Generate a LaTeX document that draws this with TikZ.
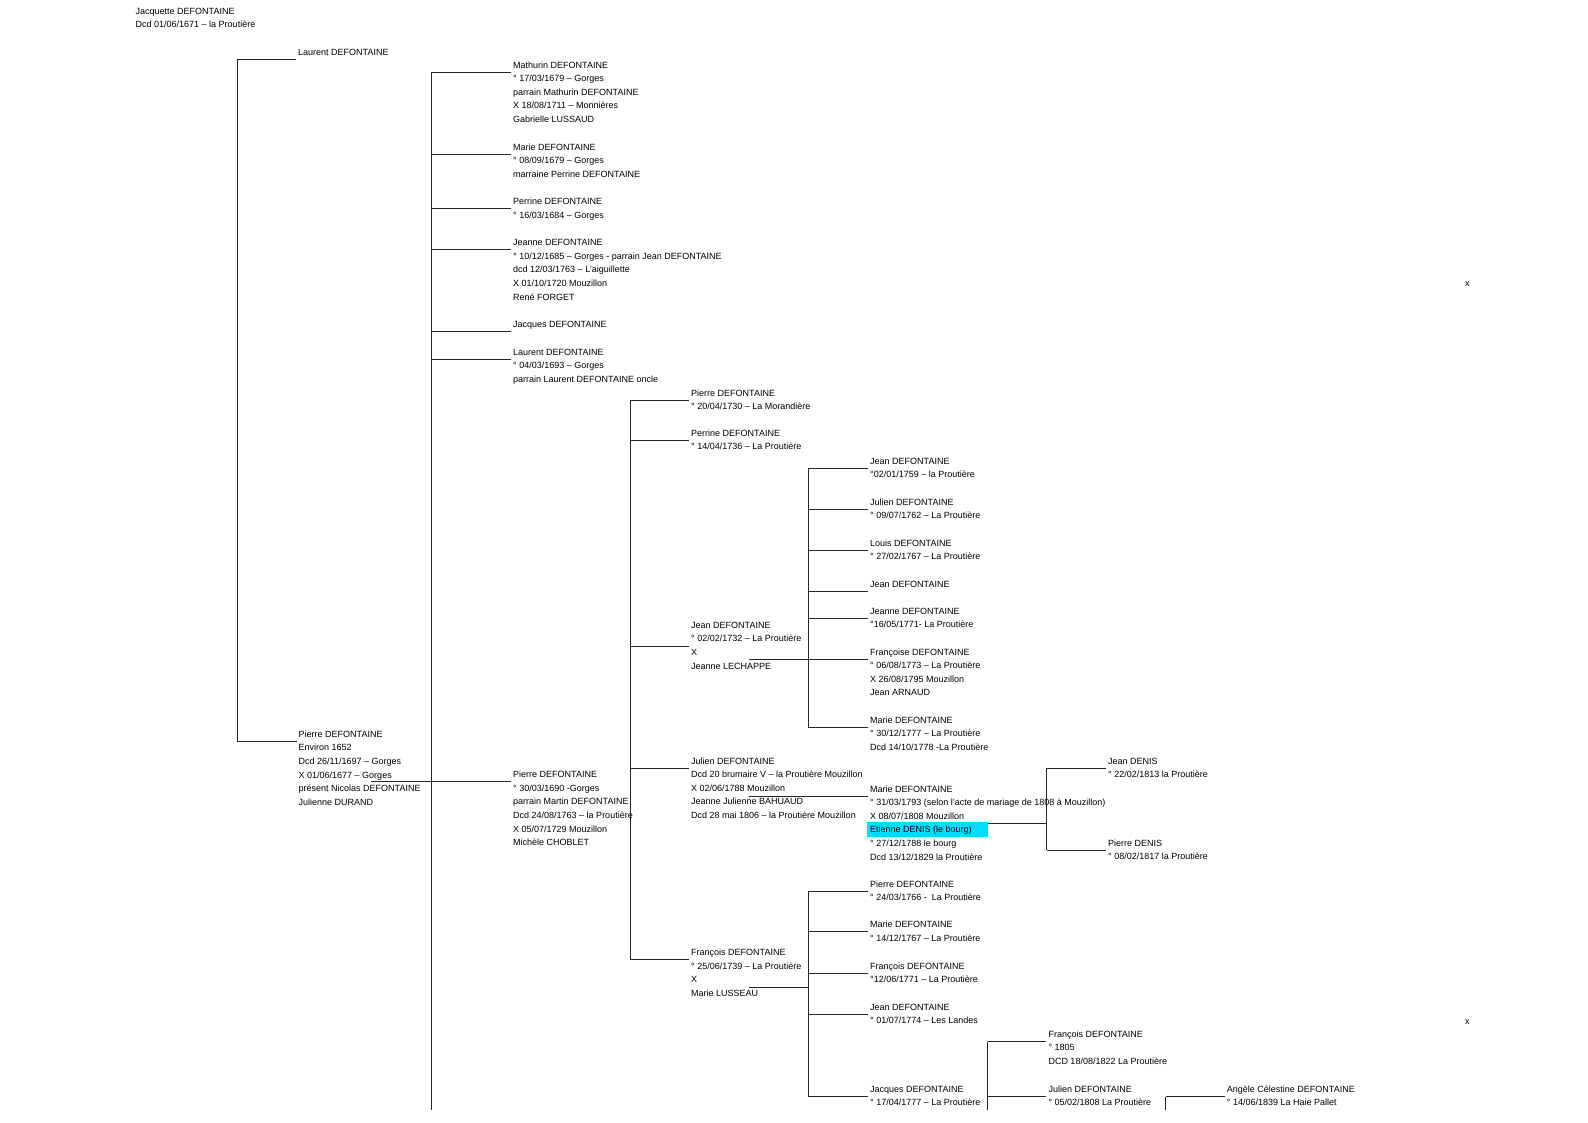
\documentclass[tikz,border=0pt]{standalone}
\usepackage{fontspec}
\setmainfont{Liberation Sans}
\usetikzlibrary{backgrounds}
\definecolor{hl}{RGB}{0,220,255}
\tikzset{
  pers/.style={anchor=north west, inner sep=0pt, align=left, font=\fontsize{9}{13.65}\selectfont},
  tree/.style={draw=black!85, line width=1pt},
  xmk/.style={inner sep=0pt, font=\fontsize{9}{13.65}\selectfont},
}
\newcommand\mkc[2]{\path ([shift={(-2,{14+#2*13.65})}]#1.north west) coordinate (#1-c);}
\newcommand\mks[3]{\path ([shift={(#2,{14+#3*13.65})}]#1.north west) coordinate (#1-s);}
\begin{document}
\begin{tikzpicture}[x=1pt,y=-1pt]
\useasboundingbox (0,0) rectangle (1588,1123);
% bus coordinates
\coordinate (bus1) at (237.6,0);
\coordinate (bus2) at (431.4,0);
\coordinate (bus3) at (630.3,0);
\coordinate (bus4) at (808.3,0);
\coordinate (bus5) at (808.3,0);
\coordinate (busD) at (1046.8,0);
\coordinate (bus6) at (987.5,0);
\coordinate (bus7) at (1165.7,0);
\coordinate (bot) at (0,1110);

% people
\node[pers] (jacq) at (135.5,4.25) {\strut Jacquette DEFONTAINE\\Dcd 01/06/1671 – la Proutière};
\node[pers] (laurentA) at (298,45.25) {\strut Laurent DEFONTAINE};
\node[pers] (pierreA) at (298.5,727.55) {\strut Pierre DEFONTAINE\\Environ 1652\\Dcd 26/11/1697 – Gorges\\X 01/06/1677 – Gorges\\présent Nicolas DEFONTAINE\\Julienne DURAND};

\node[pers] (mathurin) at (513,58.25) {\strut Mathurin DEFONTAINE\\° 17/03/1679 – Gorges\\parrain Mathurin DEFONTAINE\\X 18/08/1711 – Monnières\\Gabrielle LUSSAUD};
\node[pers] (marieA) at (513,140.25) {\strut Marie DEFONTAINE\\° 08/09/1679 – Gorges\\marraine Perrine DEFONTAINE};
\node[pers] (perrineA) at (513,194.85) {\strut Perrine DEFONTAINE\\° 16/03/1684 – Gorges};
\node[pers] (jeanneA) at (513,235.85) {\strut Jeanne DEFONTAINE\\° 10/12/1685 – Gorges - parrain Jean DEFONTAINE\\dcd 12/03/1763 – L'aiguillette\\X 01/10/1720 Mouzillon\\René FORGET};
\node[pers] (jacquesA) at (513,317.85) {\strut Jacques DEFONTAINE};
\node[pers] (laurentB) at (513,345.25) {\strut Laurent DEFONTAINE\\° 04/03/1693 – Gorges\\parrain Laurent DEFONTAINE oncle};
\node[pers] (pierreB) at (513,767.85) {\strut Pierre DEFONTAINE\\° 30/03/1690 -Gorges\\parrain Martin DEFONTAINE\\Dcd 24/08/1763 – la Proutière\\X 05/07/1729 Mouzillon\\Michèle CHOBLET};

\node[pers] (pierreC) at (691,386.25) {\strut Pierre DEFONTAINE\\° 20/04/1730 – La Morandière};
\node[pers] (perrineC) at (691,426.55) {\strut Perrine DEFONTAINE\\° 14/04/1736 – La Proutière};
\node[pers] (jeanC) at (691,618.55) {\strut Jean DEFONTAINE\\° 02/02/1732 – La Proutière\\X\\Jeanne LECHAPPE};
\node[pers] (julienC) at (691,754.25) {\strut Julien DEFONTAINE\\Dcd 20 brumaire V – la Proutière Mouzillon\\X 02/06/1788 Mouzillon\\Jeanne Julienne BAHUAUD\\Dcd 28 mai 1806 – la Proutière Mouzillon};
\node[pers] (francoisC) at (691,945.85) {\strut François DEFONTAINE\\° 25/06/1739 – La Proutière\\X\\Marie LUSSEAU};

\node[pers] (jeanD) at (870,454.25) {\strut Jean DEFONTAINE\\°02/01/1759 – la Proutière};
\node[pers] (julienD) at (870,495.25) {\strut Julien DEFONTAINE\\° 09/07/1762 – La Proutière};
\node[pers] (louisD) at (870,536.25) {\strut Louis DEFONTAINE\\° 27/02/1767 – La Proutière};
\node[pers] (jeanE) at (870,577.25) {\strut Jean DEFONTAINE};
\node[pers] (jeanneD) at (870,604.25) {\strut Jeanne DEFONTAINE\\°16/05/1771- La Proutière};
\node[pers] (francoiseD) at (870,645.25) {\strut Françoise DEFONTAINE\\° 06/08/1773 – La Proutière\\X 26/08/1795 Mouzillon\\Jean ARNAUD};
\node[pers] (marieD) at (870,713.55) {\strut Marie DEFONTAINE\\° 30/12/1777 – La Proutière\\Dcd 14/10/1778 -La Proutière};

\begin{scope}[on background layer]
  \fill[hl] (866.7,822.3) rectangle (987.7,836.7);
\end{scope}
\node[pers] (marieE) at (870,782.25) {\strut Marie DEFONTAINE\\° 31/03/1793 (selon l'acte de mariage de 1808 à Mouzillon)\\X 08/07/1808 Mouzillon\\Etienne DENIS (le bourg)\\° 27/12/1788 le bourg\\Dcd 13/12/1829 la Proutière};
\node[pers] (jeanDenis) at (1108,754.25) {\strut Jean DENIS\\° 22/02/1813 la Proutière};
\node[pers] (pierreDenis) at (1108,836.25) {\strut Pierre DENIS\\° 08/02/1817 la Proutière};

\node[pers] (pierreF) at (870,877.55) {\strut Pierre DEFONTAINE\\° 24/03/1766 -\ \ La Proutière};
\node[pers] (marieF) at (870,917.85) {\strut Marie DEFONTAINE\\° 14/12/1767 – La Proutière};
\node[pers] (francoisF) at (870,959.25) {\strut François DEFONTAINE\\°12/06/1771 – La Proutière};
\node[pers] (jeanF) at (870,1000.25) {\strut Jean DEFONTAINE\\° 01/07/1774 – Les Landes};
\node[pers] (jacquesF) at (870,1082.55) {\strut Jacques DEFONTAINE\\° 17/04/1777 – La Proutière};

\node[pers] (francoisG) at (1048.3,1027.55) {\strut François DEFONTAINE\\° 1805\\DCD 18/08/1822 La Proutière};
\node[pers] (julienG) at (1048.3,1082.55) {\strut Julien DEFONTAINE\\° 05/02/1808 La Proutière};
\node[pers] (angele) at (1226.7,1082.55) {\strut Angèle Célestine DEFONTAINE\\° 14/06/1839 La Haie Pallet};

\node[xmk] (xA) at (1467.3,284.3) {x};
\node[xmk] (xB) at (1467.3,1021.7) {x};

% connector points
\mkc{laurentA}{0}\mkc{pierreA}{0}
\mkc{mathurin}{0}\mkc{marieA}{0}\mkc{perrineA}{0}\mkc{jeanneA}{0}\mkc{jacquesA}{0}\mkc{laurentB}{0}\mkc{pierreB}{0}
\mkc{pierreC}{0}\mkc{perrineC}{0}\mkc{jeanC}{1}\mkc{julienC}{0}\mkc{francoisC}{0}
\mkc{jeanD}{0}\mkc{julienD}{0}\mkc{louisD}{0}\mkc{jeanE}{0}\mkc{jeanneD}{0}\mkc{francoiseD}{0}\mkc{marieD}{0}
\mkc{marieE}{0}\mkc{jeanDenis}{0}\mkc{pierreDenis}{0}
\mkc{pierreF}{0}\mkc{marieF}{0}\mkc{francoisF}{0}\mkc{jeanF}{0}\mkc{jacquesF}{0}
\mkc{francoisG}{0}\mkc{julienG}{0}\mkc{angele}{0}
\mks{pierreA}{72.5}{3}
\mks{jeanC}{58}{2}
\mks{julienC}{58}{2}
\mks{francoisC}{58.3}{2}
\mks{marieE}{117.7}{2}

% bus 1
\draw[tree] (bus1 |- laurentA-c) -- (bus1 |- pierreA-c);
\foreach \p in {laurentA,pierreA} \draw[tree] (bus1 |- \p-c) -- (\p-c);
% bus 2
\draw[tree] (bus2 |- mathurin-c) -- (bus2 |- bot);
\foreach \p in {mathurin,marieA,perrineA,jeanneA,jacquesA,laurentB} \draw[tree] (bus2 |- \p-c) -- (\p-c);
\draw[tree] (pierreA-s |- pierreB-c) -- (pierreB-c);
% bus 3
\draw[tree] (bus3 |- pierreC-c) -- (bus3 |- francoisC-c);
\foreach \p in {pierreC,perrineC,jeanC,julienC,francoisC} \draw[tree] (bus3 |- \p-c) -- (\p-c);
% bus 4
\draw[tree] (bus4 |- jeanD-c) -- (bus4 |- marieD-c);
\foreach \p in {jeanD,julienD,louisD,jeanE,jeanneD,marieD} \draw[tree] (bus4 |- \p-c) -- (\p-c);
\draw[tree] (jeanC-s |- francoiseD-c) -- (francoiseD-c);
% Julien -> Marie
\draw[tree] (julienC-s |- marieE-c) -- (marieE-c);
% Denis
\draw[tree] (marieE-s) -- (busD |- marieE-s);
\draw[tree] (busD |- jeanDenis-c) -- (busD |- pierreDenis-c);
\foreach \p in {jeanDenis,pierreDenis} \draw[tree] (busD |- \p-c) -- (\p-c);
% bus 5
\draw[tree] (bus5 |- pierreF-c) -- (bus5 |- jacquesF-c);
\foreach \p in {pierreF,marieF,francoisF,jeanF,jacquesF} \draw[tree] (bus5 |- \p-c) -- (\p-c);
\draw[tree] (francoisC-s) -- (bus5 |- francoisC-s);
% bus 6
\draw[tree] (bus6 |- francoisG-c) -- (bus6 |- bot);
\foreach \p in {francoisG,julienG} \draw[tree] (bus6 |- \p-c) -- (\p-c);
% bus 7
\draw[tree] (bus7 |- angele-c) -- (bus7 |- bot);
\draw[tree] (bus7 |- angele-c) -- (angele-c);
\end{tikzpicture}
\end{document}
